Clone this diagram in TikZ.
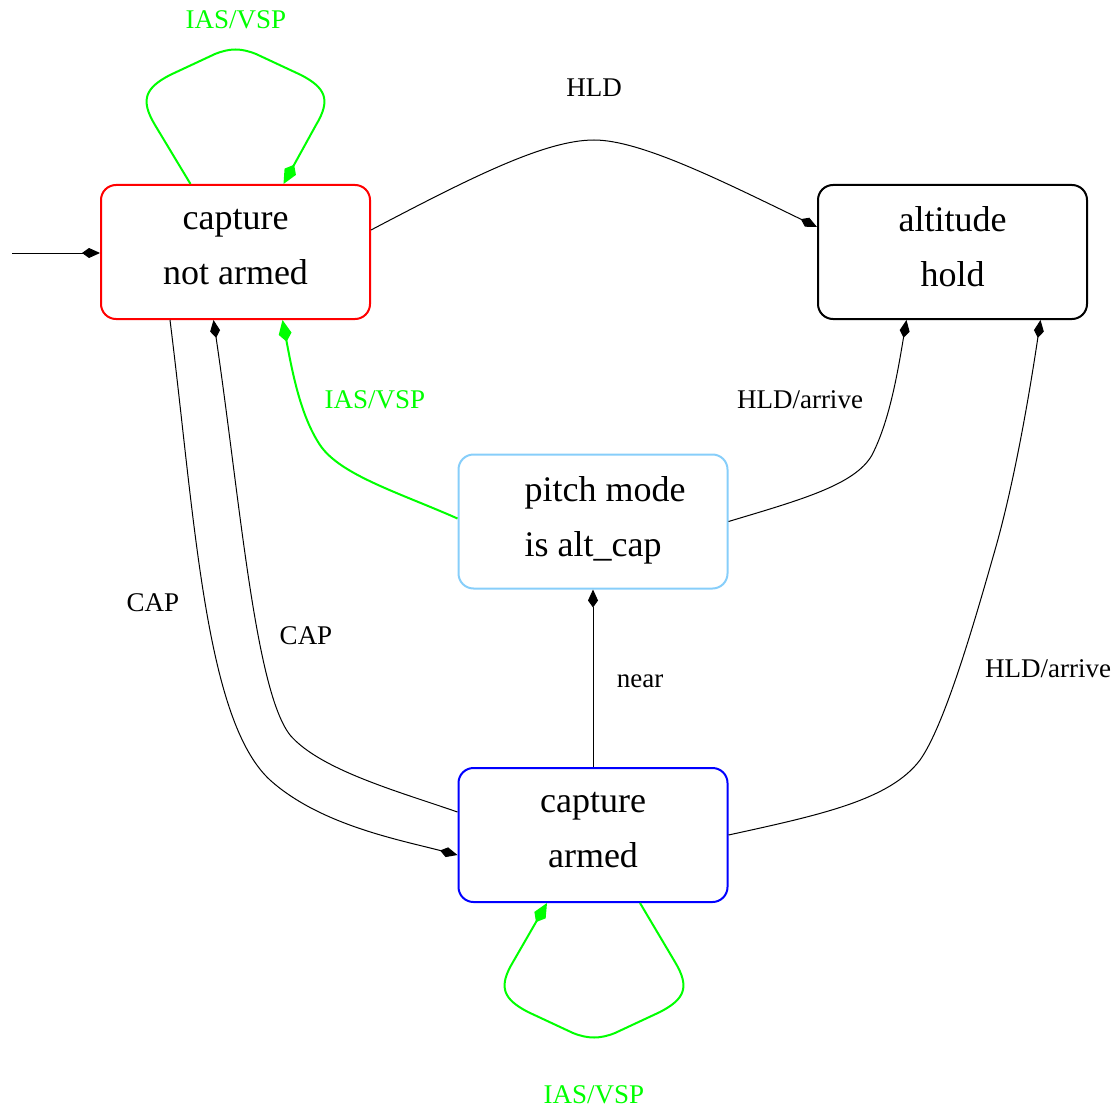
\documentclass[tikz,border=0pt]{standalone}
\usepackage{fontspec}
\setmainfont{Liberation Serif}
\usetikzlibrary{arrows.meta,calc}
\definecolor{lsblue}{RGB}{135,206,250}
\definecolor{gr}{RGB}{0,255,0}
\tikzset{
  state/.style={draw, line width=2pt, rounded corners=15pt, minimum width=269pt, minimum height=134pt,
    align=center, font=\fontsize{36}{55}\selectfont, inner sep=0pt, text depth=10pt},
  lbl/.style={font=\fontsize{27}{30}\selectfont, inner sep=0pt},
  glbl/.style={lbl, text=gr},
  edge/.style={line width=1pt, -{Kite[length=18pt,width=10pt,inset=7pt]}},
  gedge/.style={line width=2pt, draw=gr, -{Kite[length=22pt,width=13pt,inset=8pt]}},
}
\begin{document}
\begin{tikzpicture}[x=1pt,y=-1pt]
\useasboundingbox (0,0) rectangle (1113,1110);
\node[state, draw=red] (notarmed) at (235.5,252) {capture\\not armed};
\node[state, draw=black] (alt) at (952.5,252) {altitude\\hold};
\node[state, draw=lsblue, align=left] (pitch) at (593,521.5) {\hspace*{24pt}pitch mode\\\hspace*{24pt}is alt\_cap};
\node[state, draw=blue] (armed) at (593,835) {capture\\armed};

\coordinate (init) at (12,253);
\draw[edge] (init) -- ([yshift=-1pt]notarmed.west);

% self-loop top
\draw[gedge] ([xshift=-45pt]notarmed.north) -- (155,125) .. controls (140,100) and (145,88) .. (170,75)
  -- (215,54) .. controls (230,48) and (241,48) .. (256,54) -- (301,75)
  .. controls (326,88) and (331,100) .. (316,125) -- ([xshift=48pt]notarmed.north);
\node[glbl] (l1) at (236,20) {IAS/VSP};

% notarmed -> alt
\draw[edge] ([yshift=22pt]notarmed.east) .. controls (470,178) and (545,140) .. (594,140)
  .. controls (640,140) and (720,180) .. ([yshift=25pt]alt.west);
\node[lbl] (l2) at (594,88) {HLD};

% notarmed -> armed (CAP)
\draw[edge] ([xshift=-65.5pt]notarmed.south) .. controls (195,520) and (205,720) .. (270,780)
  .. controls (320,825) and (400,840) .. ([yshift=-20pt]armed.west);
\node[lbl] (l3) at (153,603) {CAP};

% armed -> notarmed (CAP)
\draw[edge] ([yshift=23pt]armed.west) .. controls (400,792) and (320,770) .. (290,735)
  .. controls (255,690) and (240,500) .. ([xshift=-22pt]notarmed.south);
\node[lbl] (l4) at (306,636) {CAP};

% pitch -> notarmed
\draw[gedge] ([yshift=3pt]pitch.west) .. controls (400,493) and (340,475) .. (320,445)
  .. controls (300,415) and (292,370) .. ([xshift=47pt]notarmed.south);
\node[glbl] (l5) at (375,400) {IAS/VSP};

% pitch -> alt
\draw[edge] (pitch.east) .. controls (800,500) and (855,485) .. (872,455)
  .. controls (890,420) and (898,370) .. ([xshift=-46pt]alt.south);
\node[lbl] (l6) at (800,400) {HLD/arrive};

% armed -> pitch
\draw[edge] (armed.north) -- (pitch.south);
\node[lbl] (l7) at (640,681) {near};

% armed -> alt
\draw[edge] (armed.east) .. controls (820,815) and (890,800) .. (920,760)
  .. controls (945,725) and (975,620) .. (995,550)
  .. controls (1015,480) and (1030,390) .. ([xshift=88pt]alt.south);
\node[lbl] (l8) at (1048,669) {HLD/arrive};

% self-loop bottom
\draw[gedge] ([xshift=47pt]armed.south) -- (675,962) .. controls (690,987) and (685,999) .. (660,1012)
  -- (615,1033) .. controls (600,1039) and (588,1039) .. (573,1033) -- (528,1012)
  .. controls (503,999) and (498,987) .. (513,962) -- ([xshift=-46pt]armed.south);
\node[glbl] (l9) at (594,1095) {IAS/VSP};
\end{tikzpicture}
\end{document}
